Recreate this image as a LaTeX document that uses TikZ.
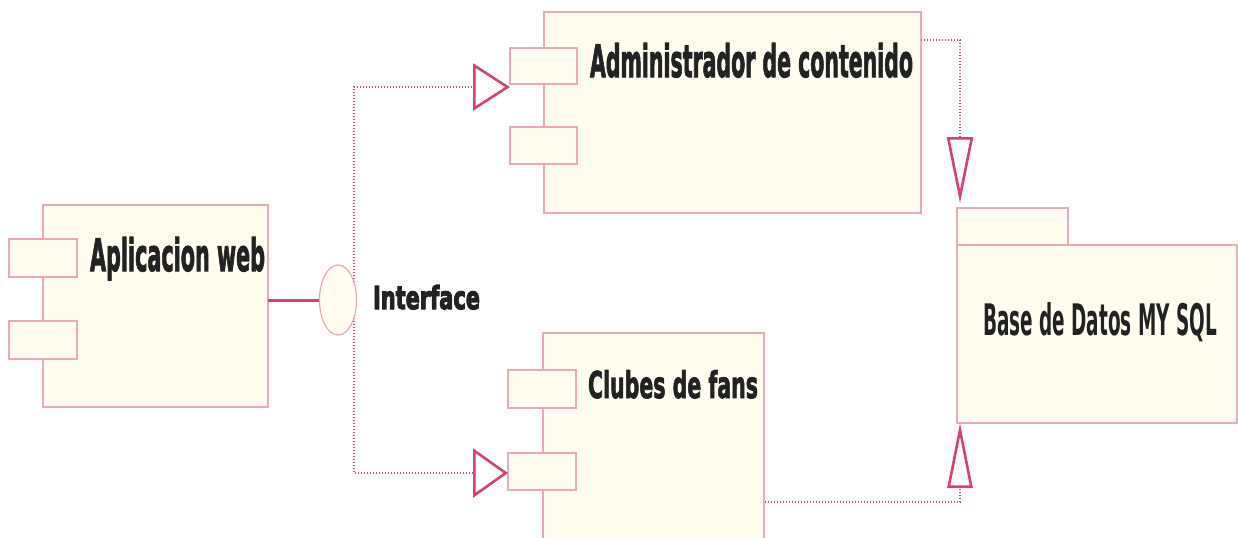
\documentclass[tikz,border=0pt]{standalone}
\usepackage{fontspec}
\setmainfont{DejaVu Sans}
\newfontfamily\heavyfont{DejaVu Sans Bold}[FakeBold=2.5]
\newfontfamily\blackfont{DejaVu Sans Bold}[FakeBold=4]
\newfontfamily\semifont{DejaVu Sans Bold}
\usetikzlibrary{arrows.meta,shapes.geometric}
\definecolor{boxfill}{HTML}{FFFDF0}
\definecolor{boxline}{HTML}{F2A7B8}
\definecolor{conn}{HTML}{D8436C}
\definecolor{txt}{HTML}{222222}
\tikzset{
  comp/.style={draw=boxline, fill=boxfill, line width=0.6pt, rectangle, inner sep=0pt, outer sep=0pt, anchor=north west},
  lbl/.style={inner sep=0pt, outer sep=0pt, anchor=base west, text=txt},
  dep/.style={draw=conn, line width=1pt, dash pattern=on 0.7pt off 0.8pt},
}
\begin{document}
\begin{tikzpicture}[x=0.5pt, y=-0.5pt]
\clip (0,0) rectangle (1238,537);
\fill[white] (0,0) rectangle (1238,537);
% components
\node[comp, minimum width=112.5pt, minimum height=101pt] (app) at (43,205) {};
\node[comp, minimum width=34pt, minimum height=19pt] (app1) at (9,239) {};
\node[comp, minimum width=34pt, minimum height=19pt] (app2) at (9,321) {};
\node[comp, minimum width=188.5pt, minimum height=100.5pt] (admin) at (544,12) {};
\node[comp, minimum width=33.5pt, minimum height=18pt] (adm1) at (510,48) {};
\node[comp, minimum width=33.5pt, minimum height=18.5pt] (adm2) at (510,127) {};
\node[comp, minimum width=110.5pt, minimum height=105pt] (clubes) at (543,333) {};
\node[comp, minimum width=34pt, minimum height=19pt] (clb1) at (508,370) {};
\node[comp, minimum width=34pt, minimum height=18.5pt] (clb2) at (508,453) {};
\node[comp, minimum width=55.5pt, minimum height=18.5pt] (dbtab) at (957,208) {};
\node[comp, minimum width=140pt, minimum height=89pt] (db) at (957,245) {};
% labels
\node[lbl] (appt) at (90,271) {\resizebox{87.5pt}{17pt}{\heavyfont Aplicacion web}};
\node[lbl] (admt) at (590,77) {\resizebox{161.5pt}{17pt}{\heavyfont Administrador de contenido}};
\node[lbl] (clbt) at (588,398) {\resizebox{85pt}{14pt}{\heavyfont Clubes de fans}};
\node[lbl] (dbt) at (983,335) {\resizebox{117pt}{16.5pt}{\semifont Base de Datos MY SQL}};
\node[lbl] (ifct) at (373,309) {\resizebox{53.5pt}{12pt}{\blackfont Interface}};
% connector coordinates
\coordinate (bus) at (354,300);
\coordinate (admin in) at (510,87);
\coordinate (clubes in) at (508,473);
\coordinate (admin out) at (921,40);
\coordinate (clubes out) at (765,502);
\coordinate (db top) at (960,203);
\coordinate (db bottom) at (960,423);
% dependencies
\draw[dep, -{Triangle[color=conn, fill=white, line width=1.3pt, length=18.5pt, width=23.5pt]}] (bus) |- (admin in);
\draw[dep, -{Triangle[color=conn, fill=white, line width=1.3pt, length=17.5pt, width=24.5pt]}] (bus) |- (clubes in);
\draw[dep, -{Triangle[color=conn, fill=white, line width=1.3pt, length=33pt, width=13pt]}] (admin out) -| (db top);
\draw[dep, -{Triangle[color=conn, fill=white, line width=1.3pt, length=32.5pt, width=12.5pt]}] (clubes out) -| (db bottom);
% interface
\node[ellipse, draw=boxline, fill=boxfill, line width=0.6pt, minimum width=18.5pt, minimum height=35pt, inner sep=0pt] (ifc) at (338,300) {};
\draw[conn, line width=1.5pt] (app.east |- ifc.west) -- (ifc.west);
\end{tikzpicture}
\end{document}
